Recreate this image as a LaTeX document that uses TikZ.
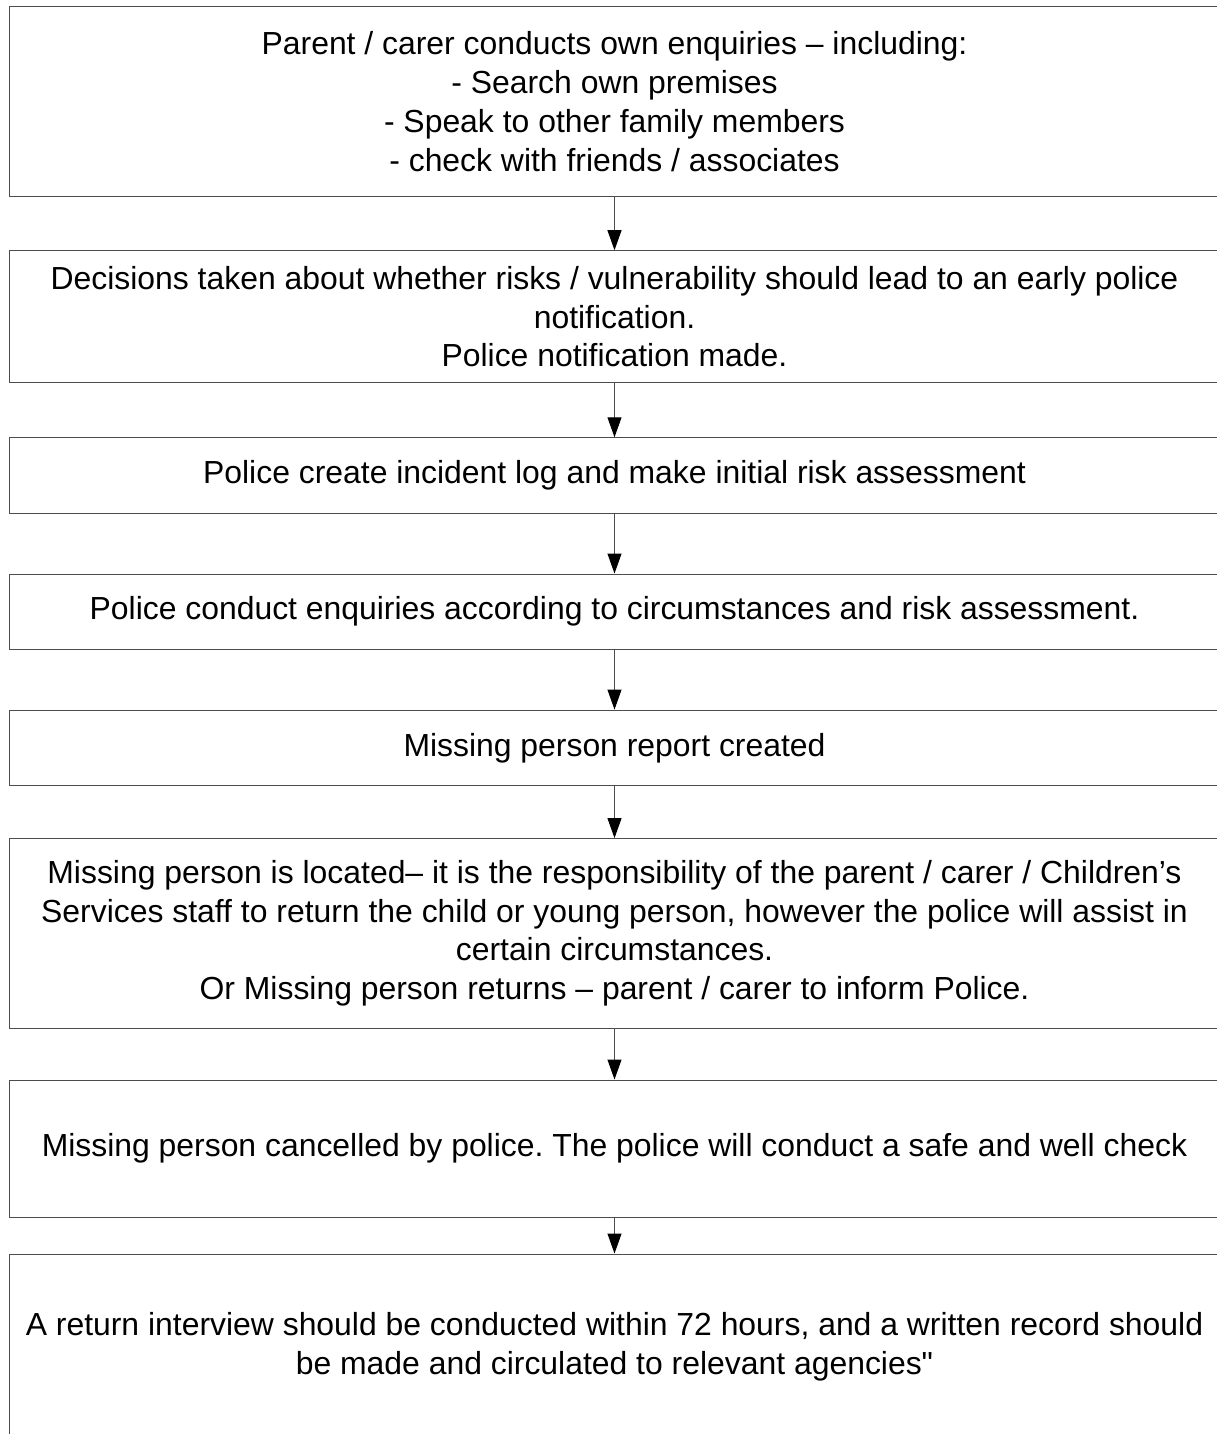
\documentclass[tikz,border=0pt]{standalone}
\usepackage{fontspec}
\setmainfont{Liberation Sans}[Ligatures=TeXOff]
\usetikzlibrary{arrows.meta}
\frenchspacing

\tikzset{
  stage/.style={draw=black!70,line width=0.5pt,rectangle,inner sep=0pt,
    minimum width=605.5pt,align=center,
    font=\fontsize{15.95}{19.4}\selectfont},
  flow/.style={draw=black!70,line width=0.5pt,
    -{Triangle[length=10pt,width=7pt,color=black]}}
}

\begin{document}
\begin{tikzpicture}[x=0.5pt,y=-0.5pt]
\useasboundingbox (0,0) rectangle (1216,1434);

\node[stage,minimum height=94.65pt] (s1) at (614.5,101.4)
  {Parent / carer conducts own enquiries – including:\\
   - Search own premises\\
   - Speak to other family members\\
   - check with friends / associates};
\node[stage,minimum height=66pt] (s2) at (614.5,316.7)
  {Decisions taken about whether risks / vulnerability should lead to an early police\\
   notification.\\
   Police notification made.};
\node[stage,minimum height=37.65pt] (s3) at (614.5,475.4)
  {Police create incident log and make initial risk assessment};
\node[stage,minimum height=37.5pt] (s4) at (614.5,611.5)
  {Police conduct enquiries according to circumstances and risk assessment.};
\node[stage,minimum height=37.85pt] (s5) at (614.5,747.9)
  {Missing person report created};
\node[stage,minimum height=94.75pt] (s6) at (614.5,933.3)
  {Missing person is located– it is the responsibility of the parent / carer / Children’s\\
   Services staff to return the child or young person, however the police will assist in\\
   certain circumstances.\\
   Or Missing person returns – parent / carer to inform Police.};
\node[stage,minimum height=68.5pt] (s7) at (614.5,1148.5)
  {Missing person cancelled by police. The police will conduct a safe and well check};
\node[stage,minimum height=93pt] (s8) at (614.5,1347)
  {A return interview should be conducted within 72 hours, and a written record should\\
   be made and circulated to relevant agencies"};

\path[flow]
  (s1) edge (s2) (s2) edge (s3) (s3) edge (s4) (s4) edge (s5)
  (s5) edge (s6) (s6) edge (s7) (s7) edge (s8);

\end{tikzpicture}
\end{document}
